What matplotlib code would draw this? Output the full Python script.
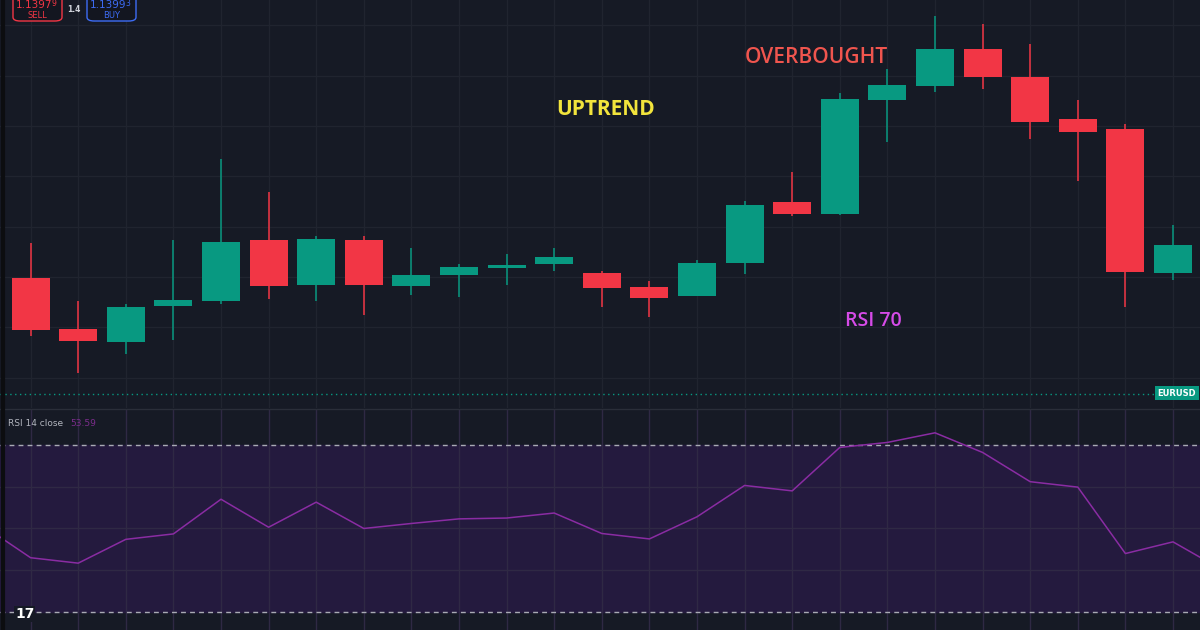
import numpy as np
import matplotlib.pyplot as plt
from matplotlib.patches import FancyBboxPatch

# EURUSD candles
opens = [1.13199, 1.13096, 1.13071, 1.13142, 1.13153, 1.13274, 1.13185, 1.13273, 1.13183, 1.13204,
         1.13218, 1.13226, 1.13208, 1.13181, 1.13163, 1.13227, 1.13349, 1.13326, 1.13551, 1.13579,
         1.13653, 1.13597, 1.13513, 1.13493, 1.13209]
highs = [1.13268, 1.13153, 1.13147, 1.13274, 1.13435, 1.13368, 1.13281, 1.13281, 1.13257, 1.13226,
         1.13246, 1.13257, 1.13212, 1.13193, 1.13234, 1.13351, 1.13409, 1.13565, 1.13614, 1.13718,
         1.13702, 1.13662, 1.13552, 1.13504, 1.13304]
lows = [1.13083, 1.13009, 1.13048, 1.13075, 1.13147, 1.13157, 1.13152, 1.13124, 1.13165, 1.13160,
        1.13184, 1.13212, 1.13140, 1.13120, 1.13163, 1.13206, 1.13321, 1.13324, 1.13468, 1.13568,
        1.13573, 1.13475, 1.13391, 1.13141, 1.13194]
closes = [1.13094, 1.13073, 1.13141, 1.13155, 1.13270, 1.13183, 1.13276, 1.13185, 1.13204, 1.13220,
          1.13224, 1.13240, 1.13179, 1.13159, 1.13228, 1.13344, 1.13326, 1.13553, 1.13581, 1.13653,
          1.13597, 1.13508, 1.13487, 1.13210, 1.13264]

# RSI 14, one value per bar (starts one bar before the first visible candle)
rsi = [50.7, 43.0, 41.7, 47.4, 48.7, 57.0, 50.3, 56.3, 50.0, 51.2, 52.3, 52.5, 53.7, 48.8,
       47.5, 52.8, 60.3, 59.0, 69.4, 70.6, 72.9, 68.2, 61.2, 59.9, 44.0, 46.8, 40.3]
rsi_start = -1
compare_line = 1.12968

BG = "#161a25"
GRID = "#20242f"
UP = "#089981"
DOWN = "#f23645"

W, H = 1200, 630
fig = plt.figure(figsize=(12, 6.3), dpi=100, facecolor=BG)

step = 47.6
x0 = 30.6
xlim = (-x0 / step, (W - x0) / step)

# main price pane: pixel rows 0..408
ax = fig.add_axes([0, 1 - 408 / H, 1, 408 / H])
ax.set_facecolor(BG)
ax.set_xlim(*xlim)
ax.set_ylim(1.12940, 1.13750)

x = np.arange(len(opens))
o = np.array(opens); c = np.array(closes)
colors = [UP if cc >= oo else DOWN for oo, cc in zip(o, c)]
ax.vlines(x, lows, highs, colors=colors, lw=1.1, zorder=3)
ax.bar(x, np.abs(c - o), bottom=np.minimum(o, c), width=0.8, color=colors, zorder=4)

ax.set_xticks(x)
ax.set_yticks(np.arange(1.1300, 1.1371, 0.001))
ax.grid(True, color=GRID, lw=1)
ax.tick_params(length=0, labelbottom=False, labelleft=False)
for s in ax.spines.values():
    s.set_visible(False)

ax.axhline(compare_line, color=UP, lw=1, ls=(0, (1, 2.5)), zorder=2)

ax.text(12.09, 1.13532, "UPTREND", color="#f2e43c", fontsize=15, fontweight="bold",
        family="Open Sans", ha="center", va="center")
ax.text(16.5, 1.13635, "OVERBOUGHT", color="#f0554e", fontsize=15, fontweight="semibold",
        family="Open Sans", ha="center", va="center")
ax.text(17.7, 1.13113, "RSI 70", color="#d64be8", fontsize=14, fontweight="semibold",
        family="Open Sans", ha="center", va="center")

# EURUSD tag
ax.text(1177 / W, 1 - 393 / 408, "EURUSD", transform=ax.transAxes, color="white",
        fontsize=6, fontweight="bold", ha="center", va="center",
        bbox=dict(boxstyle="square,pad=0.35", fc=UP, ec="none"))

# RSI pane: pixel rows 409..630
ax2 = fig.add_axes([0, 0, 1, (H - 409) / H])
ax2.set_facecolor(BG)
ax2.set_xlim(*xlim)
ax2.set_ylim(25.7, 78.6)
ax2.axhspan(30, 70, color="#241a3e", zorder=0)
ax2.set_xticks(x)
ax2.set_yticks([40, 50, 60])
ax2.grid(True, color="#2f2944", lw=1)
ax2.tick_params(length=0, labelbottom=False, labelleft=False)
for s in ax2.spines.values():
    s.set_visible(False)
for lvl in (70, 30):
    ax2.axhline(lvl, color="#a9abb4", lw=1, ls=(0, (3.5, 3)), zorder=2)
rx = np.arange(rsi_start, rsi_start + len(rsi))
ax2.plot(rx, rsi, color="#8a2ca3", lw=1.1, zorder=3)

ax2.text(8 / W, 1 - 14 / (H - 409), "RSI 14 close", transform=ax2.transAxes, color="#b2b5be",
         fontsize=6.5, va="center")
ax2.text(70 / W, 1 - 14 / (H - 409), "53.59", transform=ax2.transAxes, color="#7b2d8c",
         fontsize=6.5, va="center")
ax2.text(15 / W, 1 - 205 / (H - 409), "17", transform=ax2.transAxes, color="white",
         fontsize=10, fontweight="heavy", va="center", zorder=5,
         bbox=dict(boxstyle="square,pad=0.05", fc=BG, ec="none"))

# pane separator and left border
fig.add_artist(plt.Line2D([0, 1], [1 - 408.5 / H] * 2, color="#2a2e39", lw=1))
fig.add_artist(plt.Line2D([3 / W] * 2, [0, 1], color="#0c0d10", lw=3))

# sell / buy widget at top-left
def trade_box(x_px, price, sup, label, col):
    fig.add_artist(FancyBboxPatch((x_px / W, 1 - 21 / H), 49 / W, 28 / H,
                                  boxstyle="round,pad=0,rounding_size=0.006",
                                  fc="#131620", ec=col, lw=1, transform=fig.transFigure))
    fig.text((x_px + 21) / W, 1 - 5 / H, price, color=col, fontsize=7.5,
             ha="center", va="center")
    fig.text((x_px + 38) / W, 1 - 4 / H, sup, color=col, fontsize=5.5,
             ha="left", va="center")
    fig.text((x_px + 24.5) / W, 1 - 15 / H, label, color=col, fontsize=6, ha="center", va="center")

trade_box(13, "1.1397", "9", "SELL", "#f23645")
trade_box(87, "1.1399", "3", "BUY", "#3d6cf5")
fig.text(74 / W, 1 - 9 / H, "1.4", color="#d1d4dc", fontsize=5.5, fontweight="bold",
         ha="center", va="center")

fig.savefig("out.png", dpi=100, facecolor=BG)
